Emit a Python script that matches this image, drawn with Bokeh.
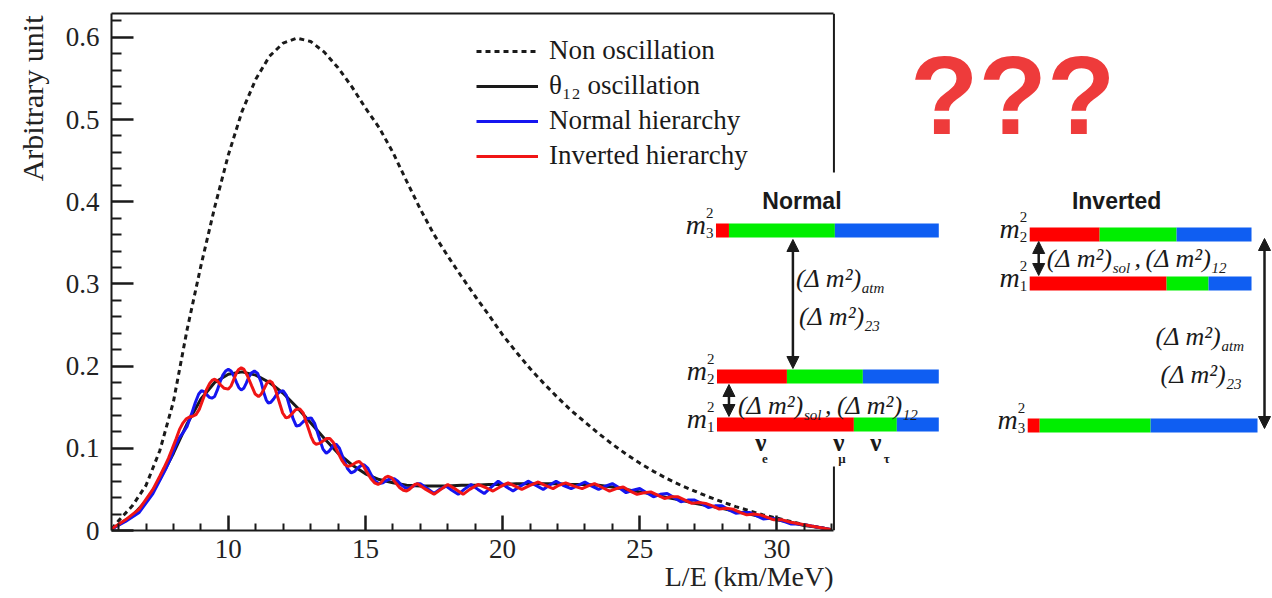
from bokeh.plotting import figure
from bokeh.models import Range1d, LinearAxis, FixedTicker, Arrow, NormalHead, Title
from bokeh.core.properties import value
from bokeh.embed import file_html
from bokeh.resources import INLINE

# ---------------- data ----------------
nonosc_x = [5.75, 6.0, 6.5, 7.0, 7.5, 8.0, 8.5, 9.0, 9.5, 10.0, 10.5, 11.0, 11.5, 12.0, 12.5,
            13.0, 13.5, 14.0, 14.5, 15.0, 15.5, 16.0, 16.5, 17.0, 17.5, 18.0, 18.5, 19.0, 19.5,
            20.0, 20.5, 21.0, 21.5, 22.0, 22.5, 23.0, 23.5, 24.0, 24.5, 25.0, 25.5, 26.0, 26.5,
            27.0, 27.5, 28.0, 28.5, 29.0, 29.5, 30.0, 30.5, 31.0, 31.5, 32.0]
nonosc_y = [0.002, 0.012, 0.030, 0.055, 0.097, 0.157, 0.245, 0.322, 0.393, 0.457, 0.510, 0.549,
            0.577, 0.593, 0.599, 0.595, 0.582, 0.563, 0.540, 0.514, 0.490, 0.460, 0.425, 0.391,
            0.360, 0.334, 0.309, 0.285, 0.262, 0.238, 0.217, 0.197, 0.179, 0.162, 0.146, 0.132,
            0.118, 0.105, 0.093, 0.082, 0.072, 0.063, 0.055, 0.048, 0.041, 0.035, 0.029, 0.024,
            0.019, 0.015, 0.011, 0.007, 0.004, 0.001]

theta12_x = list(nonosc_x)
theta12_y = [0.002, 0.007, 0.018, 0.036, 0.062, 0.094, 0.130, 0.160, 0.180, 0.190, 0.193, 0.189,
             0.180, 0.167, 0.150, 0.131, 0.112, 0.094, 0.080, 0.069, 0.062, 0.058, 0.055, 0.054,
             0.054, 0.054, 0.055, 0.055, 0.056, 0.056, 0.057, 0.057, 0.057, 0.057, 0.056, 0.056,
             0.055, 0.053, 0.050, 0.047, 0.044, 0.040, 0.037, 0.033, 0.030, 0.027, 0.023, 0.020,
             0.016, 0.013, 0.010, 0.006, 0.004, 0.001]

# normal hierarchy (blue), (L/E, value) pairs
nh_points = [
    (5.75, 0.002), (6.25, 0.011), (6.75, 0.022), (7.25, 0.045), (7.75, 0.077), (7.9, 0.088),
    (8.05, 0.101), (8.2, 0.112), (8.35, 0.119), (8.5, 0.127), (8.65, 0.141), (8.8, 0.156),
    (8.92, 0.166), (9.02, 0.170), (9.12, 0.169), (9.22, 0.165), (9.31, 0.162), (9.4, 0.161),
    (9.5, 0.163), (9.6, 0.171), (9.7, 0.181), (9.8, 0.189), (9.9, 0.194), (10.0, 0.196),
    (10.1, 0.194), (10.2, 0.188), (10.3, 0.180), (10.38, 0.174), (10.47, 0.171), (10.56, 0.173),
    (10.65, 0.179), (10.75, 0.187), (10.85, 0.192), (10.95, 0.194), (11.07, 0.191), (11.2, 0.180),
    (11.3, 0.167), (11.38, 0.159), (11.46, 0.155), (11.55, 0.156), (11.65, 0.160), (11.75, 0.165),
    (11.88, 0.169), (12.0, 0.170), (12.12, 0.164), (12.24, 0.150), (12.36, 0.136), (12.48, 0.127),
    (12.6, 0.128), (12.72, 0.132), (12.86, 0.136), (13.02, 0.137), (13.15, 0.130), (13.3, 0.114),
    (13.45, 0.099), (13.57, 0.094), (13.66, 0.096), (13.75, 0.100), (13.84, 0.104), (13.93, 0.105),
    (14.05, 0.100), (14.2, 0.087), (14.35, 0.075), (14.48, 0.070), (14.6, 0.072), (14.72, 0.076),
    (14.84, 0.079), (14.95, 0.080), (15.08, 0.076), (15.22, 0.067), (15.36, 0.060), (15.5, 0.057),
    (15.64, 0.058), (15.78, 0.061), (15.92, 0.063), (16.05, 0.063), (16.18, 0.060), (16.32, 0.055),
    (16.45, 0.052), (16.56, 0.051), (16.68, 0.053), (16.8, 0.055), (16.9, 0.057), (17.0, 0.057),
    (17.25, 0.051), (17.5, 0.045), (17.7, 0.050), (17.94, 0.054), (18.15, 0.049), (18.38, 0.044),
    (18.6, 0.050), (18.85, 0.056), (19.1, 0.050), (19.33, 0.045), (19.6, 0.053), (19.84, 0.060),
    (20.1, 0.054), (20.38, 0.048), (20.65, 0.054), (20.93, 0.060), (21.2, 0.055), (21.48, 0.050),
    (21.7, 0.055), (21.95, 0.060), (22.2, 0.055), (22.5, 0.051), (22.75, 0.055), (23.0, 0.059),
    (23.25, 0.054), (23.5, 0.050), (23.75, 0.054), (24.0, 0.057), (24.25, 0.052), (24.5, 0.046),
    (24.75, 0.049), (25.0, 0.051), (25.25, 0.046), (25.5, 0.041), (25.75, 0.044), (26.0, 0.045),
    (26.25, 0.040), (26.5, 0.035), (26.75, 0.037), (27.0, 0.037), (27.25, 0.033), (27.5, 0.028),
    (27.75, 0.030), (28.0, 0.030), (28.25, 0.025), (28.5, 0.021), (28.75, 0.022), (29.0, 0.022),
    (29.25, 0.018), (29.5, 0.014), (29.75, 0.015), (30.0, 0.014), (30.25, 0.011), (30.5, 0.008),
    (30.75, 0.008), (31.0, 0.007), (31.5, 0.004), (32.0, 0.001)]
nh_x = [pt[0] for pt in nh_points]
nh_y = [pt[1] for pt in nh_points]

# inverted hierarchy (red), (L/E, value) pairs
ih_points = [
    (5.75, 0.002), (6.25, 0.013), (6.75, 0.026), (7.25, 0.050), (7.5, 0.066), (7.65, 0.076),
    (7.82, 0.088), (7.95, 0.099), (8.1, 0.112), (8.22, 0.123), (8.35, 0.131), (8.47, 0.136),
    (8.58, 0.138), (8.7, 0.139), (8.82, 0.141), (8.95, 0.148), (9.08, 0.160), (9.2, 0.171),
    (9.32, 0.179), (9.42, 0.183), (9.5, 0.184), (9.6, 0.182), (9.72, 0.177), (9.85, 0.173),
    (10.0, 0.172), (10.1, 0.176), (10.2, 0.184), (10.3, 0.192), (10.38, 0.196), (10.47, 0.198),
    (10.57, 0.196), (10.7, 0.188), (10.85, 0.176), (10.98, 0.166), (11.1, 0.163), (11.2, 0.166),
    (11.3, 0.172), (11.4, 0.179), (11.5, 0.182), (11.6, 0.180), (11.72, 0.171), (11.85, 0.157),
    (11.98, 0.143), (12.1, 0.137), (12.2, 0.138), (12.32, 0.142), (12.45, 0.147), (12.6, 0.148),
    (12.73, 0.143), (12.87, 0.129), (13.02, 0.114), (13.12, 0.107), (13.2, 0.105), (13.32, 0.106),
    (13.45, 0.109), (13.58, 0.112), (13.7, 0.112), (13.83, 0.107), (13.98, 0.096), (14.13, 0.086),
    (14.25, 0.080), (14.37, 0.078), (14.47, 0.079), (14.57, 0.081), (14.67, 0.083), (14.77, 0.084),
    (14.9, 0.080), (15.05, 0.071), (15.2, 0.063), (15.33, 0.058), (15.46, 0.056), (15.56, 0.058),
    (15.65, 0.062), (15.74, 0.065), (15.83, 0.066), (15.96, 0.064), (16.1, 0.058), (16.25, 0.052),
    (16.38, 0.049), (16.5, 0.048), (16.6, 0.050), (16.7, 0.053), (16.8, 0.056), (16.9, 0.057),
    (17.2, 0.050), (17.5, 0.044), (17.75, 0.050), (18.0, 0.056), (18.3, 0.050), (18.56, 0.044),
    (18.8, 0.050), (19.1, 0.056), (19.4, 0.052), (19.65, 0.048), (19.9, 0.053), (20.2, 0.058),
    (20.45, 0.054), (20.7, 0.050), (21.0, 0.055), (21.3, 0.059), (21.55, 0.055), (21.84, 0.051),
    (22.05, 0.055), (22.3, 0.058), (22.6, 0.054), (22.9, 0.051), (23.1, 0.054), (23.35, 0.057),
    (23.65, 0.052), (23.9, 0.048), (24.15, 0.051), (24.4, 0.053), (24.65, 0.048), (24.9, 0.044),
    (25.15, 0.046), (25.4, 0.047), (25.65, 0.043), (25.9, 0.039), (26.15, 0.041), (26.4, 0.041),
    (26.65, 0.037), (26.9, 0.033), (27.15, 0.034), (27.4, 0.033), (27.65, 0.030), (27.9, 0.026),
    (28.15, 0.027), (28.4, 0.026), (28.65, 0.022), (28.9, 0.019), (29.15, 0.020), (29.4, 0.019),
    (29.65, 0.016), (29.9, 0.013), (30.2, 0.013), (30.5, 0.010), (31.0, 0.007), (31.5, 0.004),
    (32.0, 0.001)]
ih_x = [pt[0] for pt in ih_points]
ih_y = [pt[1] for pt in ih_points]

legend_labels = ["Non oscillation", "θ₁₂ oscillation", "Normal hierarchy", "Inverted hierarchy"]
x_ticks = [10, 15, 20, 25, 30]
x_minor_ticks = [6, 7, 8, 9, 11, 12, 13, 14, 16, 17, 18, 19, 21, 22, 23, 24, 26, 27, 28, 29, 31, 32]
y_ticks = [0, 0.1, 0.2, 0.3, 0.4, 0.5, 0.6]
y_tick_labels = ["0", "0.1", "0.2", "0.3", "0.4", "0.5", "0.6"]
y_minor_ticks = [0.02, 0.04, 0.06, 0.08, 0.12, 0.14, 0.16, 0.18, 0.22, 0.24, 0.26, 0.28,
                 0.32, 0.34, 0.36, 0.38, 0.42, 0.44, 0.46, 0.48, 0.52, 0.54, 0.56, 0.58, 0.62]
x_title = "L/E (km/MeV)"
y_title = "Arbitrary unit"

# ---------------- layout constants ----------------
X_START, X_END = 5.74, 32.08      # chart axis extent
X_PANEL_END = 48.07               # frame continues right to hold the diagram
Y_START, Y_END = 0.0, 0.629
SERIF = "Liberation Serif"
SANS = "Liberation Sans"
INK = "#1a1a1a"
RED, GREEN, BLUE = "#ff0000", "#00ee00", "#0f5ef2"

p = figure(width=1272, height=598, output_backend="svg", toolbar_location=None, title=None,
           x_range=Range1d(X_START, X_PANEL_END), y_range=Range1d(Y_START, Y_END),
           x_axis_type=None, y_axis_type=None,
           min_border_left=110, min_border_right=0, min_border_top=13, min_border_bottom=68)
p.outline_line_color = None
p.background_fill_color = "white"
p.border_fill_color = "white"

axis_style = dict(axis_line_color=INK, axis_line_width=2,
                  major_tick_line_color=INK, major_tick_line_width=2.5,
                  minor_tick_line_color=INK, minor_tick_line_width=2,
                  major_tick_out=0, minor_tick_out=0,
                  major_label_text_font=SERIF, major_label_text_font_size="27px",
                  major_label_text_color="#222")

xaxis = LinearAxis(ticker=FixedTicker(ticks=x_ticks, minor_ticks=x_minor_ticks),
                   bounds=(X_START, X_END), major_tick_in=15, minor_tick_in=7,
                   major_label_standoff=9, **axis_style)
p.add_layout(xaxis, "below")

yaxis = LinearAxis(ticker=FixedTicker(ticks=y_ticks, minor_ticks=y_minor_ticks),
                   major_tick_in=22, minor_tick_in=10, major_label_standoff=12,
                   major_label_overrides=dict(zip(y_ticks, y_tick_labels)), **axis_style)
p.add_layout(yaxis, "left")

topaxis = LinearAxis(ticker=FixedTicker(ticks=[]), bounds=(X_START, X_END),
                     axis_line_color=INK, axis_line_width=2, major_tick_in=0, major_tick_out=0,
                     minor_tick_in=0, minor_tick_out=0, major_label_standoff=0,
                     major_label_text_font_size="0px")
p.add_layout(topaxis, "above")

# axis titles (right-aligned on x, top-aligned on y, as in the reference)
p.add_layout(Title(text=x_title, align="right", offset=1272 - 833, vertical_align="top",
                   standoff=0, text_font=SERIF, text_font_size="28px",
                   text_font_style="normal", text_color="#222"), "below")
p.add_layout(Title(text=y_title, align="right", offset=2, vertical_align="bottom",
                   standoff=27, text_font=SERIF, text_font_size="30px",
                   text_font_style="normal", text_color="#222"), "left")

# ---------------- curves ----------------
p.line(nonosc_x, nonosc_y, line_color=INK, line_width=3, line_dash="5 4",
       legend_label=legend_labels[0])
p.line(theta12_x, theta12_y, line_color=INK, line_width=3, legend_label=legend_labels[1])
p.line(nh_x, nh_y, line_color="#1515f0", line_width=3, legend_label=legend_labels[2])
p.line(ih_x, ih_y, line_color="#f01515", line_width=3, legend_label=legend_labels[3])

# right edge of the chart frame
p.segment(x0=[X_END], y0=[Y_START], x1=[X_END], y1=[Y_END], line_color=INK, line_width=2)

lg = p.legend[0]
lg.location = (365, 359)
lg.border_line_color = None
lg.background_fill_alpha = 0
lg.padding = 0
lg.margin = 0
lg.spacing = 4
lg.glyph_width = 62
lg.glyph_height = 28
lg.label_height = 28
lg.label_standoff = 11
lg.label_text_font = SERIF
lg.label_text_font_size = "27px"
lg.label_text_color = INK

# ---------------- diagram (pixel-like coordinates) ----------------
p.extra_x_ranges = {"dx": Range1d(110, 1272)}
p.extra_y_ranges = {"dy": Range1d(530, 13)}
D = dict(x_range_name="dx", y_range_name="dy")

# white panel of the pasted diagram
p.quad(left=[665], right=[1272], top=[172], bottom=[466], fill_color="white",
       line_color=None, **D)

BAR_H = 14
bars = [  # left, end of red, end of green, right, top
    (715, 728, 834, 938, 223),
    (716, 786, 862, 938, 369),
    (716, 853, 896, 938, 417),
    (1029, 1099, 1176, 1251, 227),
    (1029, 1166, 1208, 1251, 276),
    (1027, 1039, 1150, 1257, 418),
]
bar_index = ["3", "2", "1", "2", "1", "3"]
ql, qr, qt, qb, qc = [], [], [], [], []
for (l, r1, g1, r, t) in bars:
    for a, b, c in ((l, r1, RED), (r1, g1, GREEN), (g1, r, BLUE)):
        ql.append(a); qr.append(b); qt.append(t); qb.append(t + BAR_H); qc.append(c)
p.quad(left=ql, right=qr, top=qt, bottom=qb, fill_color=qc, line_color=None, **D)


def txt(xs, ys, texts, size, style="normal", font=SERIF, color=INK, align="left"):
    p.text(x=xs, y=ys, text=texts, text_font=value(font), text_font_size=size,
           text_font_style=style, text_color=color, text_align=align,
           text_baseline="middle", **D)


# m_i^2 labels
txt([b[0] - 10 for b in bars], [b[4] + 1 for b in bars], ["m"] * len(bars), "28px",
    style="italic", align="right")
txt([b[0] - 10 for b in bars], [b[4] - 11 for b in bars], ["2"] * len(bars), "15px")
txt([b[0] - 10 for b in bars], [b[4] + 9 for b in bars], bar_index, "15px")

# titles
txt([801, 1116], [200, 200], ["Normal", "Inverted"], "23px", style="bold", font=SANS,
    align="center")

# (Δm²) labels: left x, centre y, subscript
dm_groups = [(795, 278, "atm"), (798, 316, "23"), (737, 405, "sol"), (836, 405, "12"),
             (1046, 258, "sol"), (1145, 258, "12"), (1155, 336, "atm"), (1160, 374, "23")]
txt([g[0] for g in dm_groups], [g[1] for g in dm_groups], ["(Δ m²)"] * len(dm_groups),
    "26px", style="italic")
txt([g[0] + 66 for g in dm_groups], [g[1] + 9 for g in dm_groups], [g[2] for g in dm_groups],
    "15px", style="italic")
txt([824, 1134], [405, 258], [",", ","], "26px", style="italic")

# flavour labels
txt([760, 838, 875], [442, 442, 442], ["ν", "ν", "ν"], "25px", style="bold", align="center")
txt([764, 841, 886], [458, 458, 458], ["e", "μ", "τ"], "13px", style="bold", align="center")

# question marks
txt([1012], [95], ["???"], "112px", style="bold", font=SANS, color="#ee3b3b", align="center")

# arrows
for (ax, y0, y1) in [(792, 239, 368), (728, 384, 416), (1038, 241, 275), (1264, 238, 428)]:
    p.add_layout(Arrow(start=NormalHead(size=12, fill_color=INK, line_color=INK),
                       end=NormalHead(size=12, fill_color=INK, line_color=INK),
                       x_start=ax, y_start=y0, x_end=ax, y_end=y1,
                       line_color=INK, line_width=2.5, **D))

open("out.html", "w").write(file_html(p, INLINE))
